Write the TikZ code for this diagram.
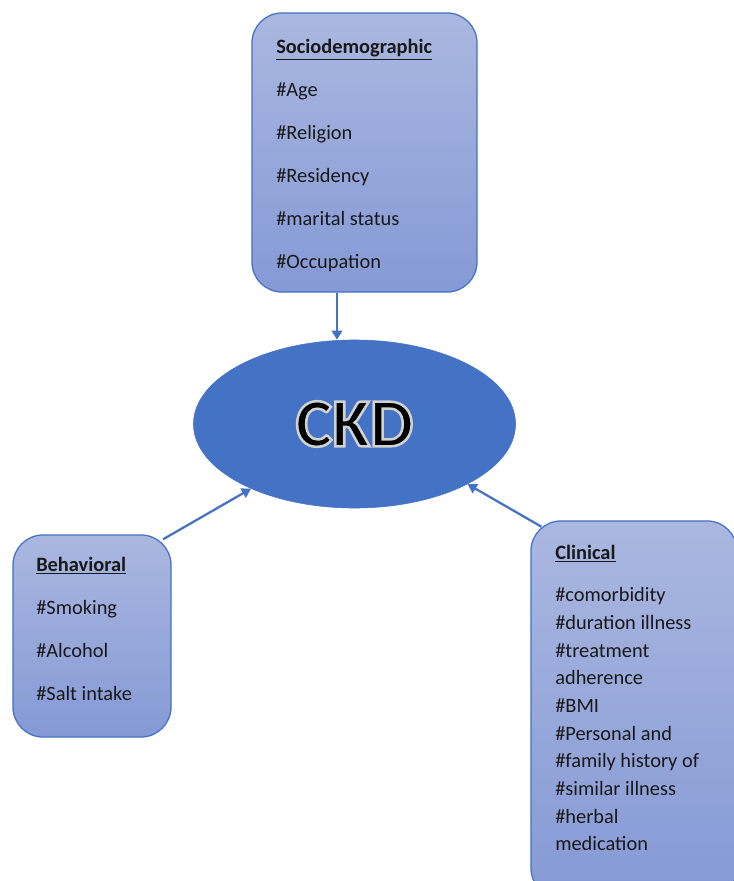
\documentclass[tikz,border=0pt]{standalone}
\usepackage{fontspec}
\setmainfont{Carlito}
\usepackage{xcolor}
\definecolor{ckdblue}{RGB}{68,114,196}
\definecolor{boxtop}{RGB}{170,183,224}
\definecolor{boxbot}{RGB}{133,153,213}
\usetikzlibrary{shapes.geometric, arrows.meta, positioning}
% outlined text (fill + stroke render mode)
\newcommand{\glowtext}[1]{\special{pdf:literal direct 2 Tr 1.8 w 0.82 0.82 0.82 RG}#1\special{pdf:literal direct 0 Tr}}

\begin{document}
\begin{tikzpicture}[x=0.025cm, y=-0.025cm,
  catbox/.style={rectangle, rounded corners=0.75cm, draw=ckdblue, line width=0.9pt,
                 top color=boxtop, bottom color=boxbot, inner sep=0pt},
  cattext/.style={anchor=north west, inner sep=0pt, align=left, text=black!90,
                  font=\fontsize{14.5}{30.6}\selectfont},
  link/.style={draw=ckdblue, line width=1.6pt, -{Triangle[length=6.5pt,width=7.5pt]}}
]
\useasboundingbox (0,0) rectangle (734,881);

% Central node
\node[ellipse, fill=ckdblue, draw=ckdblue, minimum width=8.05cm, minimum height=4.2cm,
      inner sep=0pt, font=\fontsize{49}{55}\selectfont\bfseries] (ckd) at (354.5,424) {\glowtext{CKD}};

% Category boxes
\node[catbox, minimum width=5.625cm, minimum height=6.975cm] (socio) at (364.5,152.5) {};
\node[catbox, minimum width=3.95cm, minimum height=5.05cm] (behav) at (92,636) {};
\node[catbox, minimum width=5.15cm, minimum height=9.425cm] (clin) at (634,709.5) {};

% Box texts
\node[cattext] (sociotxt) at (276,39) {\underline{\textbf{Sociodemographic}}\\\#Age\\\#Religion\\\#Residency\\\#marital status\\\#Occupation};
\node[cattext] (behavtxt) at (36,557) {\underline{\textbf{Behavioral}}\\\#Smoking\\\#Alcohol\\\#Salt intake};
\node[cattext, font=\fontsize{14.5}{19.7}\selectfont] (clintxt) at (555,545) {\underline{\textbf{Clinical}}\\[10.2pt]\#comorbidity\\\#duration illness\\\#treatment\\adherence\\\#BMI\\\#Personal and\\\#family history of\\\#similar illness\\\#herbal\\medication};

% Arrows into CKD
\draw[link] ([xshift=-0.6875cm]socio.south) -- ([xshift=-0.6875cm]socio.south |- ckd.north);
\draw[link, shorten <=-0.25cm] (behav.north east) -- (ckd.212);
\draw[link, shorten <=-0.32cm] (clin.north west) -- (ckd.332);

\end{tikzpicture}
\end{document}
